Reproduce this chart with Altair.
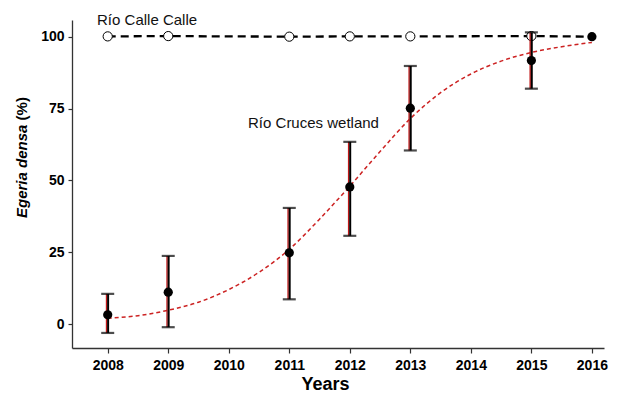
import altair as alt
import pandas as pd

FONT = "Liberation Sans"

# Río Cruces wetland: mean and error bar ends (%)
years = [2008, 2009, 2011, 2012, 2013, 2015, 2016]
cruces_mean = [3.2, 11.1, 24.8, 47.7, 75.1, 91.7, 100.0]
bar_years = [2008, 2009, 2011, 2012, 2013, 2015]
cruces_low = [-3.1, -1.1, 8.6, 30.7, 60.4, 81.9]
cruces_high = [10.5, 23.7, 40.4, 63.4, 89.8, 101.5]

# Río Calle Calle
calle_years = [2008, 2009, 2011, 2012, 2013, 2015, 2016]
calle_values = [100.1, 100.2, 100.0, 100.1, 100.1, 100.2, 100.0]

# fitted curve
fit_years = [2008, 2008.5, 2009, 2009.5, 2010, 2010.5, 2011, 2011.5, 2012,
             2012.5, 2013, 2013.5, 2014, 2014.5, 2015, 2015.5, 2016]
fit_values = [2.0, 2.9, 4.8, 7.6, 12.0, 18.0, 26.0, 36.5, 48.0,
              60.0, 71.5, 80.5, 87.0, 91.5, 94.5, 96.5, 98.0]

x_ticks = [2008, 2009, 2010, 2011, 2012, 2013, 2014, 2015, 2016]
y_ticks = [0, 25, 50, 75, 100]

label_text = ["Río Calle Calle", "Río Cruces wetland"]
label_x = [2008.65, 2011.4]
label_y = [104.1, 68.3]

pts = pd.DataFrame({"year": years, "value": cruces_mean})
bars = pd.DataFrame({"year": bar_years, "low": cruces_low, "high": cruces_high})
calle = pd.DataFrame({"year": calle_years, "value": calle_values})
fit = pd.DataFrame({"year": fit_years, "value": fit_values})
labels = pd.DataFrame({"text": label_text, "year": label_x, "value": label_y})

xscale = alt.Scale(domain=[2007.41, 2016.2], nice=False, zero=False)
yscale = alt.Scale(domain=[-8.34, 105.8], nice=False, zero=False)

xaxis = alt.Axis(values=x_ticks, format="d", title="Years", grid=False,
                 tickSize=5, labelPadding=5, labelFontSize=14, labelFontWeight="bold",
                 labelColor="black", labelFont=FONT, titleFont=FONT, titleFontSize=18,
                 titleFontWeight="bold", titleColor="black", titleX=253, titleY=41,
                 titleBaseline="alphabetic", titleAnchor="start", titleAlign="center",
                 domainColor="#333333", domainWidth=1.3, tickColor="#333333", tickWidth=1.2)
yaxis = alt.Axis(values=y_ticks, title=None, grid=False, tickSize=4, labelPadding=4,
                 labelFontSize=14, labelFontWeight="bold", labelColor="black", labelFont=FONT,
                 domainColor="#333333", domainWidth=1.3, tickColor="#333333", tickWidth=1.2)

X = alt.X("year:Q", scale=xscale, axis=xaxis)
Y = alt.Y("value:Q", scale=yscale, axis=yaxis)

calle_line = alt.Chart(calle).mark_line(color="black", strokeWidth=2.3,
                                        strokeDash=[8, 5]).encode(x=X, y=Y)
calle_pts = alt.Chart(calle[calle.year < 2016]).mark_point(
    shape="circle", size=85, filled=True, fill="white", stroke="black",
    strokeWidth=1, opacity=1).encode(x="year:Q", y="value:Q")

fit_line = alt.Chart(fit).mark_line(color="#cc2222", strokeWidth=1.5,
                                    strokeDash=[4, 3], interpolate="monotone").encode(
    x="year:Q", y="value:Q")

err_red = alt.Chart(bars).mark_rule(color="#c01818", strokeWidth=1.4, xOffset=-1.2).encode(
    x="year:Q", y="low:Q", y2="high:Q")
err_black = alt.Chart(bars).mark_rule(color="black", strokeWidth=2, xOffset=0.4).encode(
    x="year:Q", y="low:Q", y2="high:Q")
cap_low = alt.Chart(bars).mark_tick(color="black", orient="horizontal", size=13,
                                    thickness=2.2).encode(x="year:Q", y="low:Q")
cap_high = alt.Chart(bars).mark_tick(color="black", orient="horizontal", size=13,
                                     thickness=2.2).encode(x="year:Q", y="high:Q")

cruces_pts = alt.Chart(pts).mark_point(shape="circle", size=85, filled=True,
                                       color="black", opacity=1).encode(
    x="year:Q", y="value:Q")

notes = alt.Chart(labels).mark_text(font=FONT, fontSize=15, color="#111111",
                                    align="center", baseline="alphabetic").encode(
    x="year:Q", y="value:Q", text="text:N")

ytitle_a = alt.Chart(pd.DataFrame({"t": ["Egeria densa"]})).mark_text(
    font=FONT, fontSize=15, fontStyle="italic", fontWeight="bold", color="black",
    angle=270, align="center", baseline="middle").encode(
    x=alt.value(-50), y=alt.value(151.3), text="t:N")
ytitle_b = alt.Chart(pd.DataFrame({"t": ["(%)"]})).mark_text(
    font=FONT, fontSize=15, fontWeight="bold", color="black",
    angle=270, align="center", baseline="middle").encode(
    x=alt.value(-50), y=alt.value(88.8), text="t:N")

chart = alt.layer(
    calle_line, calle_pts, fit_line, err_red, err_black, cap_low, cap_high,
    cruces_pts, notes, ytitle_a, ytitle_b
).properties(
    width=532, height=328,
    autosize=alt.AutoSizeParams(type="none"),
    padding={"left": 64, "top": 12, "right": 8, "bottom": 46},
    background="white",
).configure_view(stroke=None)

chart.save("out.html", embed_options={"renderer": "svg", "actions": False})
